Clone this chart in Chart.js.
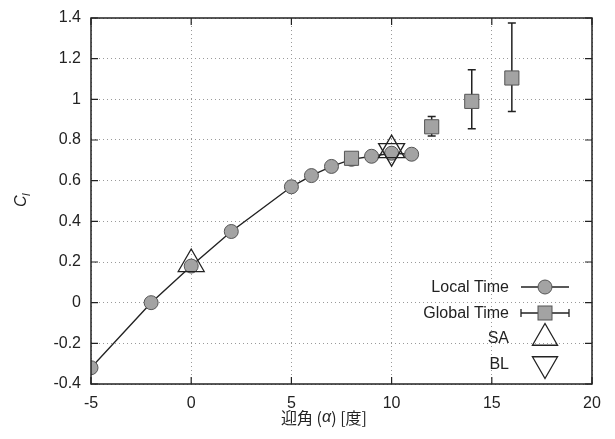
<!DOCTYPE html>
<html><head><meta charset="utf-8">
<script src="https://cdn.jsdelivr.net/npm/chart.js@4"></script>
<style>html,body{margin:0;padding:0;background:#fff}#wrap{width:615px;height:439px}</style>
</head><body><div id="wrap"><canvas id="c" width="615" height="439"></canvas></div>
<script>
const localX = [-5, -2, 0, 2, 5, 6, 7, 8, 9, 10, 11];
const localY = [-0.32, 0.0, 0.18, 0.35, 0.57, 0.625, 0.67, 0.705, 0.72, 0.735, 0.73];
const globalX = [8, 12, 14, 16];
const globalY = [0.71, 0.865, 0.99, 1.105];
const globalLow = [0.70, 0.82, 0.855, 0.94];
const globalHigh = [0.72, 0.915, 1.145, 1.375];
const saX = [0, 10];
const saY = [0.19, 0.75];
const blX = [10];
const blY = [0.745];
const xTickLabels = ['-5', '0', '5', '10', '15', '20'];
const yTickLabels = ['-0.4', '-0.2', '0', '0.2', '0.4', '0.6', '0.8', '1', '1.2', '1.4'];
const legendLabels = ['Local Time', 'Global Time', 'SA', 'BL'];
const xTitleParts = ['迎角 (', 'α', ') [度]'];
const yTitleMain = 'C';
const yTitleSub = 'l';

const FONT = '"Liberation Sans", Arial, Helvetica, sans-serif';
const GRAY = '#a3a3a3';
const DARK = '#555';

const pts = (xs, ys) => xs.map((x, i) => ({x, y: ys[i]}));

const extras = {
  id: 'extras',
  beforeDatasetsDraw(chart) {
    const ctx = chart.ctx, xs = chart.scales.x, ys = chart.scales.y;
    ctx.save();
    ctx.strokeStyle = '#222';
    ctx.lineWidth = 1.5;
    globalX.forEach((gx, i) => {
      const px = xs.getPixelForValue(gx);
      const yl = ys.getPixelForValue(globalLow[i]);
      const yh = ys.getPixelForValue(globalHigh[i]);
      ctx.beginPath();
      ctx.moveTo(px, yl); ctx.lineTo(px, yh);
      ctx.moveTo(px - 4, yl); ctx.lineTo(px + 4, yl);
      ctx.moveTo(px - 4, yh); ctx.lineTo(px + 4, yh);
      ctx.stroke();
    });
    ctx.restore();
  },
  afterDraw(chart) {
    const ctx = chart.ctx, a = chart.chartArea, xs = chart.scales.x, ys = chart.scales.y;
    ctx.save();
    ctx.strokeStyle = '#222';
    ctx.lineWidth = 1.5;
    ctx.strokeRect(a.left, a.top, a.right - a.left, a.bottom - a.top);
    ctx.lineWidth = 1.2;
    ctx.beginPath();
    xs.ticks.forEach(t => {
      const px = xs.getPixelForValue(t.value);
      ctx.moveTo(px, a.bottom); ctx.lineTo(px, a.bottom - 7);
      ctx.moveTo(px, a.top); ctx.lineTo(px, a.top + 7);
    });
    ys.ticks.forEach(t => {
      const py = ys.getPixelForValue(t.value);
      ctx.moveTo(a.left, py); ctx.lineTo(a.left + 7, py);
      ctx.moveTo(a.right, py); ctx.lineTo(a.right - 7, py);
    });
    ctx.stroke();
    ctx.fillStyle = '#222';
    ctx.textBaseline = 'middle';
    ctx.textAlign = 'left';
    const fonts = ['16px "Noto Sans CJK JP", ' + FONT, 'italic 16px ' + FONT, '16px "Noto Sans CJK JP", ' + FONT];
    let total = 0;
    const widths = xTitleParts.map((p, i) => { ctx.font = fonts[i]; const w = ctx.measureText(p).width; total += w; return w; });
    let cx = 324 - total / 2;
    xTitleParts.forEach((p, i) => { ctx.font = fonts[i]; ctx.fillText(p, cx, 418); cx += widths[i]; });
    ctx.save();
    ctx.translate(22, 200);
    ctx.rotate(-Math.PI / 2);
    ctx.font = 'italic 16px ' + FONT;
    ctx.textAlign = 'left';
    ctx.fillText(yTitleMain, -7, 0);
    ctx.font = 'italic 11px ' + FONT;
    ctx.fillText(yTitleSub, 4, 5);
    ctx.restore();
    const ly = [287, 313, 338, 364];
    const tx = 509, x1 = 521, x2 = 569, mx = 545;
    ctx.font = '16px ' + FONT;
    ctx.textAlign = 'right';
    legendLabels.forEach((lab, i) => ctx.fillText(lab, tx, ly[i] + 1));
    ctx.strokeStyle = '#222';
    ctx.lineWidth = 1.3;
    ctx.beginPath(); ctx.moveTo(x1, ly[0]); ctx.lineTo(x2, ly[0]); ctx.stroke();
    ctx.beginPath(); ctx.arc(mx, ly[0], 7, 0, Math.PI * 2);
    ctx.fillStyle = GRAY; ctx.fill(); ctx.strokeStyle = DARK; ctx.lineWidth = 1; ctx.stroke();
    ctx.strokeStyle = '#222'; ctx.lineWidth = 1.3;
    ctx.beginPath(); ctx.moveTo(x1, ly[1]); ctx.lineTo(x2, ly[1]);
    ctx.moveTo(x1, ly[1] - 4); ctx.lineTo(x1, ly[1] + 4);
    ctx.moveTo(x2, ly[1] - 4); ctx.lineTo(x2, ly[1] + 4); ctx.stroke();
    ctx.fillStyle = GRAY; ctx.fillRect(mx - 7, ly[1] - 7, 14, 14);
    ctx.strokeStyle = DARK; ctx.lineWidth = 1; ctx.strokeRect(mx - 7, ly[1] - 7, 14, 14);
    const r = 14.5;
    ctx.strokeStyle = '#222'; ctx.lineWidth = 1.3;
    ctx.beginPath();
    ctx.moveTo(mx, ly[2] - r);
    ctx.lineTo(mx + r * 0.866, ly[2] + r * 0.5);
    ctx.lineTo(mx - r * 0.866, ly[2] + r * 0.5);
    ctx.closePath(); ctx.stroke();
    ctx.beginPath();
    ctx.moveTo(mx, ly[3] + r);
    ctx.lineTo(mx + r * 0.866, ly[3] - r * 0.5);
    ctx.lineTo(mx - r * 0.866, ly[3] - r * 0.5);
    ctx.closePath(); ctx.stroke();
    ctx.restore();
  }
};

new Chart(document.getElementById('c'), {
  type: 'scatter',
  data: {
    datasets: [
      {label: legendLabels[0], data: pts(localX, localY), showLine: true, borderColor: '#222', borderWidth: 1.4,
        pointRadius: 7, pointBackgroundColor: GRAY, pointBorderColor: DARK, pointBorderWidth: 1, order: 4},
      {label: legendLabels[1], data: pts(globalX, globalY), showLine: false, pointStyle: 'rect',
        pointRadius: 10, pointBackgroundColor: GRAY, pointBorderColor: DARK, pointBorderWidth: 1, order: 3},
      {label: legendLabels[2], data: pts(saX, saY), showLine: false, pointStyle: 'triangle',
        pointRadius: 15, pointBackgroundColor: 'rgba(0,0,0,0)', pointBorderColor: '#222', pointBorderWidth: 1.3, order: 2},
      {label: legendLabels[3], data: pts(blX, blY), showLine: false, pointStyle: 'triangle',
        pointRotation: 180, pointRadius: 15, pointBackgroundColor: 'rgba(0,0,0,0)', pointBorderColor: '#222', pointBorderWidth: 1.3, order: 1}
    ]
  },
  options: {
    responsive: false,
    animation: false,
    events: [],
    layout: {padding: {left: 0, right: 23, top: 16, bottom: 0}},
    plugins: {legend: {display: false}, tooltip: {enabled: false}},
    scales: {
      x: {
        type: 'linear', min: -5, max: 20,
        ticks: {stepSize: 5, color: '#222', font: {family: FONT, size: 16, lineHeight: 1}, padding: 12,
          callback: (v, i) => xTickLabels[i]},
        grid: {color: '#9a9a9a', lineWidth: 1, drawTicks: false},
        border: {display: false, dash: [1, 3]},
        afterFit: s => { s.height = 55; }
      },
      y: {
        type: 'linear', min: -0.4, max: 1.4,
        ticks: {stepSize: 0.2, color: '#222', font: {family: FONT, size: 16, lineHeight: 1}, padding: 10,
          callback: (v, i) => yTickLabels[i]},
        grid: {color: '#9a9a9a', lineWidth: 1, drawTicks: false},
        border: {display: false, dash: [1, 3]},
        afterFit: s => { s.width = 91; }
      }
    }
  },
  plugins: [extras]
});
</script></body></html>
